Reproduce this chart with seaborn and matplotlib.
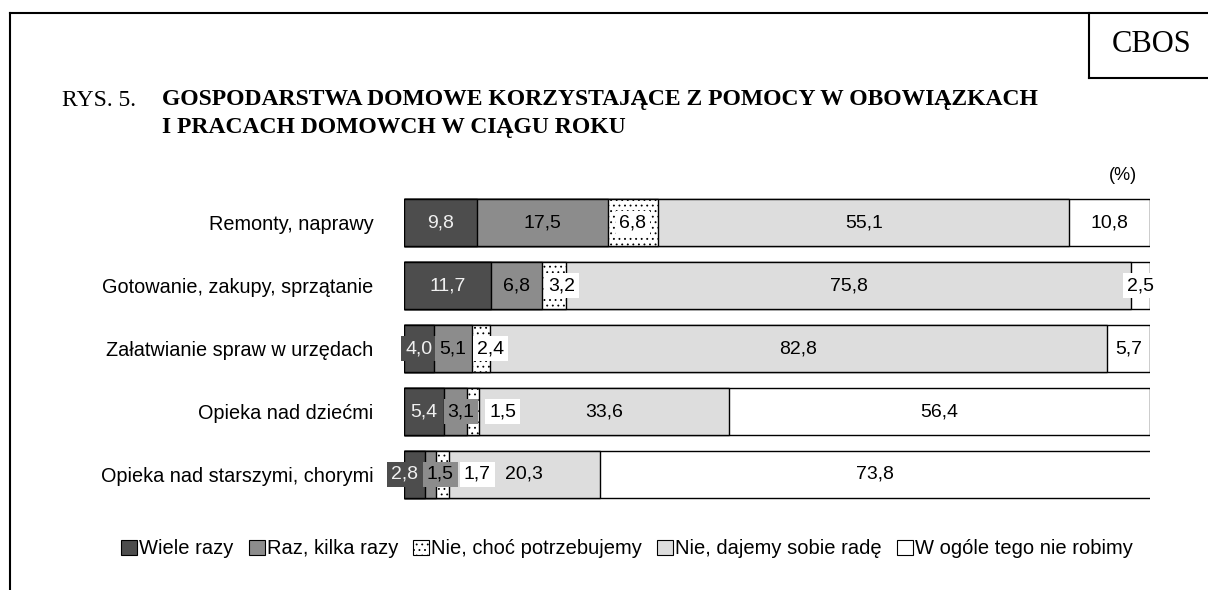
import matplotlib
matplotlib.use("Agg")
import matplotlib.pyplot as plt
from matplotlib.patches import Patch
from matplotlib.lines import Line2D
import seaborn as sns
import pandas as pd
import numpy as np

categories = [
    "Remonty, naprawy",
    "Gotowanie, zakupy, sprzątanie",
    "Załatwianie spraw w urzędach",
    "Opieka nad dziećmi",
    "Opieka nad starszymi, chorymi",
]
series = [
    "Wiele razy",
    "Raz, kilka razy",
    "Nie, choć potrzebujemy",
    "Nie, dajemy sobie radę",
    "W ogóle tego nie robimy",
]
wiele_razy = [9.8, 11.7, 4.0, 5.4, 2.8]
raz_kilka = [17.5, 6.8, 5.1, 3.1, 1.5]
nie_choc = [6.8, 3.2, 2.4, 1.5, 1.7]
nie_radzimy = [55.1, 75.8, 82.8, 33.6, 20.3]
nie_robimy = [10.8, 2.5, 5.7, 56.4, 73.8]

# label nudges (in % units) where the segments are too narrow
label_shift = {
    (1, 2): 1.0,
    (2, 2): 1.35,
    (3, 1): 0.7, (3, 2): 4.0,
    (4, 0): -1.3, (4, 1): 1.3, (4, 2): 4.7,
}

colors = ["#4d4d4d", "#8c8c8c", "#ffffff", "#dddddd", "#ffffff"]
hatches = [None, None, "...", None, None]
text_colors = ["#f0f0f0", "black", "black", "black", "black"]

plt.rcParams["hatch.linewidth"] = 0.6

values = np.array([wiele_razy, raz_kilka, nie_choc, nie_radzimy, nie_robimy])
cum = values.cumsum(axis=0)

fig = plt.figure(figsize=(12.08, 5.90), dpi=100)
ax = fig.add_axes([0.3344, 0.1425, 0.6175, 0.533])

# stacked bars: draw cumulative totals from the widest down
for i in range(len(series) - 1, -1, -1):
    df = pd.DataFrame({"cat": categories, "val": cum[i]})
    sns.barplot(data=df, y="cat", x="val", order=categories, orient="h",
                color=colors[i], saturation=1, width=0.75,
                edgecolor="black", linewidth=1.0, hatch=hatches[i], ax=ax)

for r in range(len(categories)):
    for i in range(len(series)):
        v = values[i, r]
        center = cum[i, r] - v / 2 + label_shift.get((r, i), 0)
        ax.text(center, r, f"{v:.1f}".replace(".", ","), ha="center", va="center",
                fontsize=14, family="Liberation Sans", color=text_colors[i],
                bbox=dict(boxstyle="square,pad=0.2", fc=colors[i], ec="none"))

ax.set_xlim(0, 100)
ax.set_ylim(4.5, -0.5)
ax.set_xlabel("")
ax.set_ylabel("")
ax.set_xticks([])
for s in ax.spines.values():
    s.set_visible(False)
ax.tick_params(axis="y", length=0, pad=22)
for t in ax.get_yticklabels():
    t.set_family("Liberation Sans")
    t.set_fontsize(14.3)

fig.text(1123 / 1208, 1 - 176 / 590, "(%)", ha="center", va="center",
         fontsize=13, family="Liberation Sans")

# title
fig.text(62 / 1208, 1 - 100 / 590, "RYS. 5.", family="Liberation Serif",
         fontsize=17, va="center", ha="left")
fig.text(162 / 1208, 1 - 100 / 590,
         "GOSPODARSTWA DOMOWE KORZYSTAJĄCE Z POMOCY W OBOWIĄZKACH",
         family="Liberation Serif", fontsize=17, fontweight="bold",
         va="center", ha="left")
fig.text(162 / 1208, 1 - 127 / 590, "I PRACACH DOMOWCH W CIĄGU ROKU",
         family="Liberation Serif", fontsize=17, fontweight="bold",
         va="center", ha="left")

# frame and CBOS box
fig.add_artist(Line2D([10 / 1208, 10 / 1208], [0, 1 - 13 / 590],
                      transform=fig.transFigure, color="black", lw=1.5))
fig.add_artist(Line2D([10 / 1208, 1], [1 - 13 / 590, 1 - 13 / 590],
                      transform=fig.transFigure, color="black", lw=1.5))
fig.add_artist(Line2D([1089 / 1208, 1089 / 1208], [1 - 13 / 590, 1 - 78 / 590],
                      transform=fig.transFigure, color="black", lw=1.5))
fig.add_artist(Line2D([1089 / 1208, 1], [1 - 78 / 590, 1 - 78 / 590],
                      transform=fig.transFigure, color="black", lw=1.5))
fig.text(1152 / 1208, 1 - 45 / 590, "CBOS", family="Liberation Serif",
         fontsize=22, ha="center", va="center")

handles = [Patch(facecolor=colors[i], edgecolor="black", hatch=hatches[i], lw=0.8)
           for i in range(len(series))]
fig.legend(handles, series, loc="center", bbox_to_anchor=(627 / 1208, 1 - 549 / 590),
           ncol=5, frameon=False, handlelength=0.8, handleheight=0.7,
           handletextpad=0.1, columnspacing=0.75,
           prop={"family": "Liberation Sans", "size": 14.5})

fig.savefig("out.png", dpi=100)
